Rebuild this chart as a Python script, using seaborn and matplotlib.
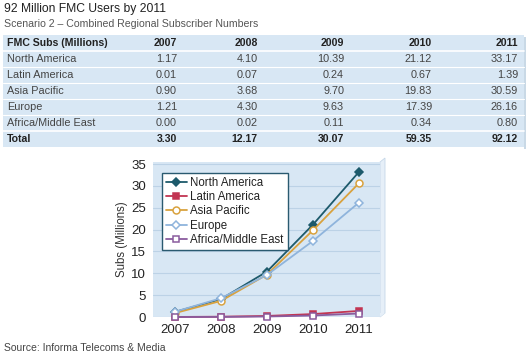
import matplotlib
matplotlib.use('Agg')
import matplotlib.pyplot as plt
import seaborn as sns
import pandas as pd
from matplotlib.patches import Rectangle, Polygon

# Data
years = ['2007', '2008', '2009', '2010', '2011']
regions = ['North America', 'Latin America', 'Asia Pacific', 'Europe', 'Africa/Middle East']
north_america = [1.17, 4.10, 10.39, 21.12, 33.17]
latin_america = [0.01, 0.07, 0.24, 0.67, 1.39]
asia_pacific = [0.90, 3.68, 9.70, 19.83, 30.59]
europe = [1.21, 4.30, 9.63, 17.39, 26.16]
africa_me = [0.00, 0.02, 0.11, 0.34, 0.80]
totals = [3.30, 12.17, 30.07, 59.35, 92.12]

series = [north_america, latin_america, asia_pacific, europe, africa_me]

sns.set_style('white')
plt.rcParams['font.family'] = ['Liberation Sans', 'DejaVu Sans']

fig = plt.figure(figsize=(5.29, 3.60), dpi=100)

# background layer in pixel coords (for title, table, source)
bg = fig.add_axes([0, 0, 1, 1])
bg.set_xlim(0, 529)
bg.set_ylim(360, 0)
bg.axis('off')

bg.text(4, 9, '92 Million FMC Users by 2011', fontsize=8.7, color='#222222', va='center')
bg.text(4, 24, 'Scenario 2 \u2013 Combined Regional Subscriber Numbers', fontsize=7.6,
        color='#555555', va='center')

# table
tbl_top, row_h = 35, 16
bg.add_patch(Rectangle((3, tbl_top), 521, row_h * 7, facecolor='#d8e7f4', edgecolor='none'))
bg.add_patch(Rectangle((524, tbl_top + 2), 2, row_h * 7, facecolor='#c9d9e6', edgecolor='none'))
for i in range(1, 7):
    y = tbl_top + i * row_h
    bg.plot([3, 524], [y, y], color='white', lw=1.2 if i in (1, 6) else 0.8)

col_right = [177, 258, 344, 432, 518]
yc = tbl_top + row_h / 2
bg.text(7, yc, 'FMC Subs (Millions)', fontsize=7.6, fontweight='bold', color='#222222', va='center')
for x, yr in zip(col_right, years):
    bg.text(x, yc, yr, fontsize=7.6, fontweight='bold', color='#222222', va='center', ha='right')
for r, (name, vals) in enumerate(zip(regions, series)):
    yc = tbl_top + (r + 1.5) * row_h
    bg.text(7, yc, name, fontsize=7.8, color='#444444', va='center')
    for x, v in zip(col_right, vals):
        bg.text(x, yc, f'{v:.2f}', fontsize=7.8, color='#444444', va='center', ha='right')
yc = tbl_top + 6.5 * row_h
bg.text(7, yc, 'Total', fontsize=7.6, fontweight='bold', color='#222222', va='center')
for x, v in zip(col_right, totals):
    bg.text(x, yc, f'{v:.2f}', fontsize=7.6, fontweight='bold', color='#222222', va='center', ha='right')

bg.text(4, 348, 'Source: Informa Telecoms & Media', fontsize=7.5, color='#444444', va='center')

# 3D-ish wall side and floor
bg.add_patch(Polygon([(380, 162), (385, 158), (385, 313), (380, 317)],
                     facecolor='#e6eff8', edgecolor='#c5d7e8', lw=0.6))
bg.add_patch(Polygon([(153, 317), (380, 317), (385, 313), (158, 313)],
                     facecolor='#e6eff8', edgecolor='none'))

# chart
ax = fig.add_axes([153 / 529, 43 / 360, 227 / 529, 155 / 360])
ax.set_facecolor('#d8e7f4')

colors = ['#1d5a6b', '#c23552', '#d9a23e', '#8fb4dc', '#8a5c9e']
markers = ['D', 's', 'o', 'D', 's']
msizes = [4.5, 4.5, 5, 4.5, 4.5]
faces = ['#1d5a6b', '#c23552', 'white', 'white', 'white']

for name, vals, c, m, ms, fc in zip(regions, series, colors, markers, msizes, faces):
    df = pd.DataFrame({'year': years, 'subs': vals})
    sns.lineplot(data=df, x='year', y='subs', ax=ax, color=c, marker=m, markersize=ms,
                 markerfacecolor=fc, markeredgecolor=c, markeredgewidth=1.1,
                 linewidth=1.3, label=name, clip_on=False)

ax.set_xlim(-0.48, 4.46)
ax.set_ylim(0, 35.46)
ax.set_yticks(range(0, 36, 5))
ax.grid(axis='y', color='#bcd2e6', linewidth=0.8)
ax.set_axisbelow(True)
for s in ax.spines.values():
    s.set_visible(False)
ax.tick_params(axis='both', length=0, labelsize=9.5, colors='#222222')
ax.tick_params(axis='y', pad=5)
ax.tick_params(axis='x', pad=5)
ax.set_xlabel('')
ax.set_ylabel('Subs (Millions)', fontsize=8.3, color='#333333', labelpad=2)

leg = ax.legend(loc='upper left', bbox_to_anchor=(0.04, 0.93), borderaxespad=0,
                fontsize=8.3, frameon=True, fancybox=False, framealpha=1,
                edgecolor='#2a5a70', labelspacing=0.2, handlelength=1.8,
                handletextpad=0.3, borderpad=0.35)
leg.get_frame().set_linewidth(1.0)
for t in leg.get_texts():
    t.set_color('#222222')

fig.savefig('out.png', dpi=100)
